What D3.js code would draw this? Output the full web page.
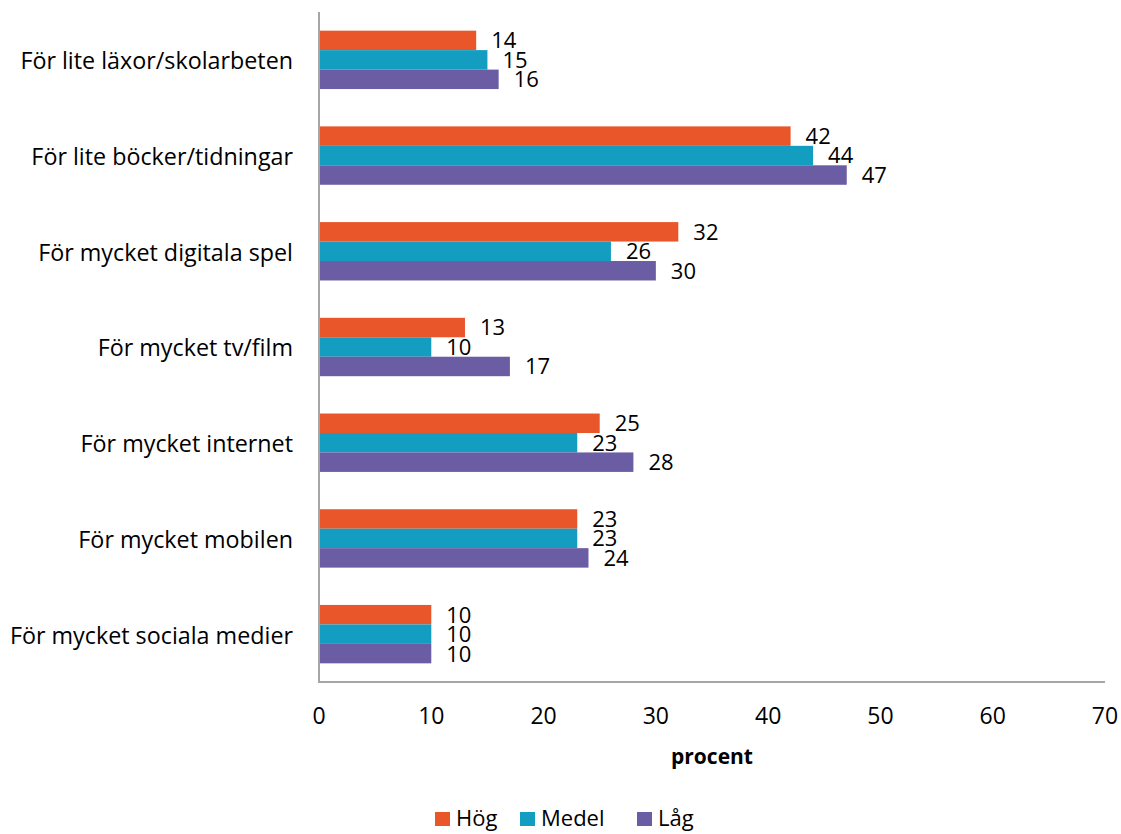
<!DOCTYPE html>
<html>
<head>
<meta charset="utf-8">
<script src="https://cdn.jsdelivr.net/npm/d3@7"></script>
<style>
  body { margin: 0; background: #fff; }
  text { font-family: "Open Sans", sans-serif; fill: #000; }
</style>
</head>
<body>
<div id="chart"></div>
<script>
// data
const categories = [
  'För lite läxor/skolarbeten',
  'För lite böcker/tidningar',
  'För mycket digitala spel',
  'För mycket tv/film',
  'För mycket internet',
  'För mycket mobilen',
  'För mycket sociala medier'
];
const seriesNames = ['Hög', 'Medel', 'Låg'];
const hog = [14, 42, 32, 13, 25, 23, 10];
const medel = [15, 44, 26, 10, 23, 23, 10];
const lag = [16, 47, 30, 17, 28, 24, 10];
const xTicks = [0, 10, 20, 30, 40, 50, 60, 70];
const colors = ['#E8562A', '#139DC1', '#6A5DA3'];

const width = 1121;
const height = 834;
const margin = {top: 12, right: 16, bottom: 152, left: 319};
const fontSize = '23px';

const svg = d3.select('#chart').append('svg')
  .attr('width', width)
  .attr('height', height);

const x = d3.scaleLinear()
  .domain([0, 70])
  .range([margin.left, width - margin.right]);

const y = d3.scaleBand()
  .domain(categories)
  .range([margin.top, height - margin.bottom])
  .paddingInner(0.39)
  .paddingOuter(0.195);

const y1 = d3.scaleBand()
  .domain(seriesNames)
  .range([0, y.bandwidth()]);

const rows = categories.map((c, i) => ({
  cat: c,
  vals: [hog[i], medel[i], lag[i]]
}));

const groups = svg.append('g')
  .selectAll('g')
  .data(rows)
  .enter().append('g')
    .attr('transform', d => 'translate(0,' + y(d.cat) + ')');

groups.selectAll('rect')
  .data(d => d.vals.map((v, j) => ({v: v, s: seriesNames[j], j: j})))
  .enter().append('rect')
    .attr('x', x(0))
    .attr('y', d => y1(d.s))
    .attr('width', d => x(d.v) - x(0))
    .attr('height', y1.bandwidth())
    .attr('fill', d => colors[d.j]);

// value labels sit tight on top of each other, as in the original
groups.selectAll('text.val')
  .data(d => d.vals.map((v, j) => ({v: v, s: seriesNames[j]})))
  .enter().append('text')
    .attr('class', 'val')
    .attr('x', d => x(d.v) + 15)
    .attr('y', d => y1(d.s) + y1.bandwidth() / 2)
    .attr('dy', '0.36em')
    .style('font-size', '22px')
    .text(d => d.v);

// category labels
svg.append('g')
  .selectAll('text')
  .data(categories)
  .enter().append('text')
    .attr('x', margin.left - 26)
    .attr('y', d => y(d) + y.bandwidth() / 2 + 1)
    .attr('dy', '0.36em')
    .attr('text-anchor', 'end')
    .style('font-size', '23.3px')
    .text(d => d);

// axes lines
const axisColor = '#A6A6A6';
svg.append('line')
  .attr('x1', x(0)).attr('x2', x(0))
  .attr('y1', margin.top).attr('y2', height - margin.bottom)
  .attr('stroke', axisColor).attr('stroke-width', 2);
svg.append('line')
  .attr('x1', x(0) - 1).attr('x2', x(70))
  .attr('y1', height - margin.bottom).attr('y2', height - margin.bottom)
  .attr('stroke', axisColor).attr('stroke-width', 2);

// tick labels
svg.append('g')
  .selectAll('text')
  .data(xTicks)
  .enter().append('text')
    .attr('x', d => x(d))
    .attr('y', 716)
    .attr('dy', '0.36em')
    .attr('text-anchor', 'middle')
    .style('font-size', fontSize)
    .text(d => d);

svg.append('text')
  .attr('x', x(35))
  .attr('y', 756)
  .attr('dy', '0.36em')
  .attr('text-anchor', 'middle')
  .style('font-size', '21px')
  .style('font-weight', 'bold')
  .text('procent');

// legend
const legendX = [435, 520, 637];
const legend = svg.append('g')
  .selectAll('g')
  .data(seriesNames)
  .enter().append('g')
    .attr('transform', (d, i) => 'translate(' + legendX[i] + ',818)');
legend.append('rect')
  .attr('x', 0).attr('y', -6)
  .attr('width', 15).attr('height', 14)
  .attr('fill', (d, i) => colors[i]);
legend.append('text')
  .attr('x', 21)
  .attr('y', 0)
  .attr('dy', '0.36em')
  .style('font-size', '22px')
  .text(d => d);
</script>
</body>
</html>
